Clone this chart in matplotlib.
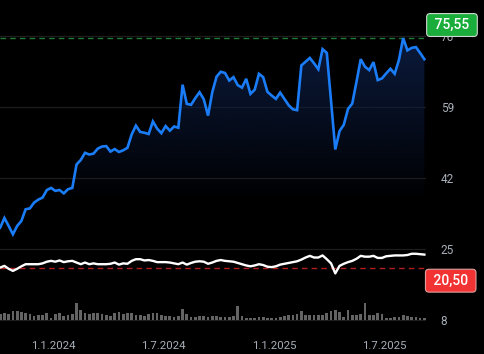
import matplotlib
matplotlib.use('Agg')
import matplotlib.pyplot as plt
import matplotlib.dates as mdates
from matplotlib.patches import PathPatch
import numpy as np
import pandas as pd

plt.rcParams['font.family'] = ['Roboto', 'DejaVu Sans']

# ---- data ----
dates = pd.date_range('2023-10-06', periods=101, freq='7D')

price = [30.2, 32.5, 30.6, 28.6, 30.6, 31.8, 34.6, 34.8, 36.2, 36.9,
         37.4, 39.2, 39.7, 39.0, 39.2, 38.4, 39.4, 39.7, 45.3, 46.4,
         48.1, 47.7, 47.9, 49.1, 49.6, 49.7, 48.4, 49.0, 48.3, 48.7,
         49.3, 52.5, 54.6, 53.1, 52.9, 52.6, 55.6, 53.9, 52.8, 54.5,
         53.4, 54.4, 54.1, 64.4, 59.8, 59.6, 61.2, 62.6, 60.9, 57.0,
         62.6, 66.3, 67.5, 67.2, 65.4, 66.2, 64.3, 63.7, 65.8, 62.2,
         63.2, 67.0, 66.2, 62.7, 61.8, 61.0, 62.5, 61.0, 59.5, 58.5,
         58.3, 69.0, 69.9, 70.8, 69.5, 68.1, 72.9, 72.0, 60.5, 48.9,
         53.3, 54.8, 58.6, 59.9, 65.1, 70.5, 68.7, 67.9, 69.8, 65.5,
         65.9, 67.1, 68.2, 67.0, 70.3, 75.55, 72.6, 73.2, 73.4, 72.0,
         70.5]

ratio = [20.65, 21.05, 20.35, 19.85, 20.35, 20.95, 21.45, 21.45, 21.45, 21.45,
         21.65, 22.05, 22.25, 22.05, 22.35, 21.95, 22.15, 22.25, 21.85, 21.45,
         21.85, 21.45, 21.65, 21.45, 21.45, 21.45, 21.55, 21.85, 21.35, 21.65,
         21.55, 22.25, 22.65, 22.65, 22.35, 22.45, 22.25, 21.95, 21.95, 21.95,
         21.85, 21.65, 21.45, 21.85, 21.35, 21.75, 22.05, 22.15, 22.05, 21.55,
         21.85, 22.25, 22.45, 22.25, 22.15, 22.05, 21.75, 21.45, 21.15, 20.95,
         21.15, 21.45, 21.25, 20.85, 20.75, 20.95, 21.35, 21.55, 21.75, 21.95,
         22.15, 22.55, 23.05, 23.45, 23.05, 23.05, 23.55, 22.65, 21.65, 19.25,
         21.05, 21.55, 21.95, 22.25, 22.75, 23.45, 23.25, 23.25, 23.45, 22.95,
         22.95, 23.35, 23.45, 23.55, 23.55, 23.55, 23.65, 23.95, 23.95, 23.85,
         23.75]

volume = [18, 20, 18, 26, 26, 24, 20, 18, 12, 14,
          14, 20, 8, 18, 20, 12, 16, 18, 48, 28,
          22, 18, 22, 20, 18, 14, 12, 22, 24, 18,
          20, 20, 16, 14, 12, 18, 20, 22, 14, 12,
          12, 10, 12, 32, 18, 10, 10, 12, 12, 10,
          12, 12, 10, 10, 10, 12, 40, 12, 8, 8,
          8, 10, 10, 8, 8, 6, 10, 12, 16, 16,
          18, 26, 14, 14, 14, 14, 16, 20, 26, 30,
          24, 10, 28, 14, 16, 18, 50, 14, 16, 20,
          18, 8, 8, 10, 10, 16, 12, 10, 10, 8,
          6]

high_level = 75.55
low_level = 20.50
high_label = '75,55'
low_label = '20,50'
y_ticks = [8, 25, 42, 59, 76]
x_tick_dates = ['2024-01-01', '2024-07-01', '2025-01-01', '2025-07-01']
x_tick_labels = ['1.1.2024', '1.7.2024', '1.1.2025', '1.7.2025']

# ---- figure ----
W, H = 485, 354
fig = plt.figure(figsize=(W / 100, H / 100), dpi=100, facecolor='black')
ax = fig.add_axes([0, 24 / H, 426 / W, 330 / H])
ax.set_facecolor('black')

ymin, ymax = 5.71, 84.66
ax.set_ylim(ymin, ymax)
x0 = mdates.date2num(pd.Timestamp('2023-10-06')) - 0.3
ax.set_xlim(x0, x0 + 703)

# grid lines
for v in y_ticks:
    ax.axhline(v, color='#1d1d1d', lw=0.9, zorder=0)

# gradient fill under price
xnum = mdates.date2num(dates)
fb = ax.fill_between(xnum, price, ymin, color='none', lw=0)
path = fb.get_paths()[0]
patch = PathPatch(path, transform=ax.transData, facecolor='none', edgecolor='none')
ax.add_patch(patch)
n = 256
grad = np.zeros((n, 1, 4))
top_col = np.array([12, 28, 64]) / 255
vals = np.linspace(ymax, ymin, n)
t = np.clip((vals - 36) / (78 - 36), 0, 1)
grad[:, 0, :3] = top_col
grad[:, 0, 3] = t
im = ax.imshow(grad, extent=[x0, x0 + 703, ymin, ymax], aspect='auto',
               origin='upper', zorder=1, interpolation='bilinear')
im.set_clip_path(patch)

# reference lines
ax.axhline(high_level, color='#1f7a33', lw=1.0, ls=(0, (4, 3)), zorder=2)
ax.axhline(low_level, color='#b01e1e', lw=1.0, ls=(0, (4, 3)), zorder=2)

# lines
ax.plot(xnum, price, color='#1a7df7', lw=1.9, zorder=4, solid_joinstyle='miter')
ax.plot(xnum, ratio, color='white', lw=1.7, zorder=4)

# volume on twin axis
ax2 = ax.twinx()
ax2.set_ylim(-27, 900)
ax2.bar(xnum, volume, width=4.5, color='#646464', zorder=3, linewidth=0)
ax2.set_yticks([])
for sp in ax2.spines.values():
    sp.set_visible(False)
ax2.set_xlim(x0, x0 + 703)

# axes styling
for sp in ax.spines.values():
    sp.set_visible(False)
ax.yaxis.tick_right()
ax.set_yticks(y_ticks)
ax.set_yticklabels([str(v) for v in y_ticks])
ax.tick_params(axis='y', length=0, pad=10.5, labelsize=8.5, labelcolor='#a8afb8')
ax.set_xticks(mdates.date2num(pd.to_datetime(x_tick_dates)))
ax.set_xticklabels(x_tick_labels)
ax.tick_params(axis='x', length=0, pad=8, labelsize=8.2, labelcolor='#a8afb8')

# badges
ax.annotate(' ' + high_label + ' ', xy=(1, high_level), xycoords=('axes fraction', 'data'),
            xytext=(18.7, 9.4), textcoords='offset points', ha='center', va='center',
            fontsize=10, fontweight='medium', color='white', zorder=10, annotation_clip=False,
            bbox=dict(boxstyle='round,pad=0.32,rounding_size=0.25', fc='#1aad3c',
                      ec='#cfd8d0', lw=0.8))
ax.annotate(' ' + low_label + ' ', xy=(1, low_level), xycoords=('axes fraction', 'data'),
            xytext=(17.8, -9.0), textcoords='offset points', ha='center', va='center',
            fontsize=10, fontweight='medium', color='white', zorder=10, annotation_clip=False,
            bbox=dict(boxstyle='round,pad=0.32,rounding_size=0.25', fc='#f23333',
                      ec='#e0a0a0', lw=0.8))

fig.savefig('out.png', dpi=100, facecolor='black')
